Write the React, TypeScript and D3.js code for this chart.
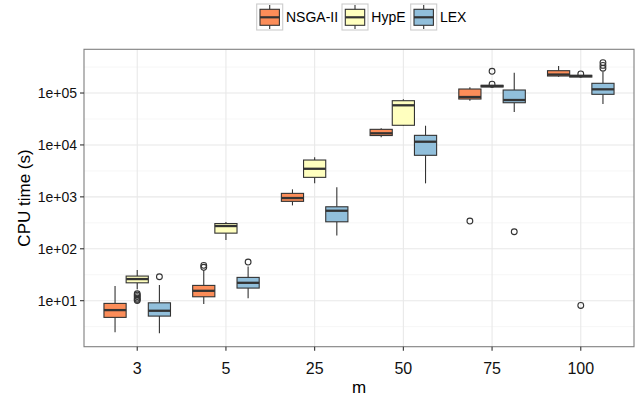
import React from "react";
import { scaleBand, scaleLog } from "d3";

// categories and series
const categories = ["3", "5", "25", "50", "75", "100"];
const seriesNames = ["NSGA-II", "HypE", "LEX"];
const seriesColors = ["#FC8D59", "#FFFFBF", "#91BFDB"];

// [lower whisker, Q1, median, Q3, upper whisker] per category
const nsga2Stats = [
  [2.48, 4.77, 6.59, 8.87, 19.1],
  [8.6, 11.9, 15.5, 19.7, 38.9],
  [685, 819, 949, 1167, 1395],
  [14000, 15170, 16750, 19970, 20900],
  [71100, 76600, 83700, 119400, 128800],
  [206000, 212600, 227000, 269000, 331000],
];
const hypeStats = [
  [16.7, 22.1, 26.1, 29.8, 38.9],
  [147, 200, 274, 306, 327],
  [1820, 2375, 3475, 5120, 5770],
  [23100, 23900, 58000, 71100, 75700],
  [127100, 130600, 136400, 140700, 143000],
  [199000, 203000, 213000, 219000, 221000],
];
const lexStats = [
  [2.35, 5.05, 6.4, 9.1, 20],
  [11.2, 17.5, 22.1, 28.1, 45.4],
  [181, 331, 540, 644, 1525],
  [1820, 6310, 11530, 15300, 23450],
  [43000, 65000, 73300, 114200, 246000],
  [61400, 94400, 117800, 153800, 258000],
];

// outliers per category
const nsga2Outliers = [[], [44, 48], [], [], [342], []];
const hypeOutliers = [[13.6, 12.8, 12, 11.2, 10.6, 10.1], [], [], [], [262000, 148000], [233000, 8.1]];
const lexOutliers = [[28.9], [55.5], [], [], [213], [300000, 340000, 385000]];

const yTicks = [1e1, 1e2, 1e3, 1e4, 1e5];
const yTickLabels = ["1e+01", "1e+02", "1e+03", "1e+04", "1e+05"];
const yMinor = [3.162, 31.62, 316.2, 3162, 31623, 316228];

const allStats = [nsga2Stats, hypeStats, lexStats];
const allOutliers = [nsga2Outliers, hypeOutliers, lexOutliers];

const W = 639;
const H = 398;
const panel = { left: 84, right: 634, top: 49.3, bottom: 346.7 };
const font = "'Liberation Sans', Arial, Helvetica, sans-serif";
const ink = "#333333";

// legend layout
const legendX = [256.7, 342, 410.7];
const legendKey = 26;

export default function App() {
  const x = scaleBand<string>()
    .domain(categories)
    .range([panel.left, panel.right])
    .paddingInner(0)
    .paddingOuter(0.1);
  const step = x.step();
  const dodge = scaleBand<string>()
    .domain(seriesNames)
    .range([-0.375 * step, 0.375 * step]);
  const bw = dodge.bandwidth();

  const y = scaleLog().domain([1.3, 695000]).range([panel.bottom, panel.top]);

  const cx = (c: string) => (x(c) as number) + step / 2;

  return (
    <svg
      width={W}
      height={H}
      style={{ position: "absolute", left: 0, top: 0, display: "block", background: "#fff" }}
    >
      {/* panel background */}
      <rect
        x={panel.left}
        y={panel.top}
        width={panel.right - panel.left}
        height={panel.bottom - panel.top}
        fill="#fff"
      />
      {/* minor grid */}
      {yMinor.map((v, i) => (
        <line
          key={"mn" + i}
          x1={panel.left}
          x2={panel.right}
          y1={y(v)}
          y2={y(v)}
          stroke="#f4f4f4"
          strokeWidth={0.8}
        />
      ))}
      {/* major grid */}
      {yTicks.map((v, i) => (
        <line
          key={"mj" + i}
          x1={panel.left}
          x2={panel.right}
          y1={y(v)}
          y2={y(v)}
          stroke="#e8e8e8"
          strokeWidth={1.1}
        />
      ))}
      {categories.map((c) => (
        <line
          key={"vx" + c}
          x1={cx(c)}
          x2={cx(c)}
          y1={panel.top}
          y2={panel.bottom}
          stroke="#e8e8e8"
          strokeWidth={1.1}
        />
      ))}

      {/* boxes */}
      {seriesNames.map((s, si) =>
        categories.map((c, ci) => {
          const [lo, q1, med, q3, hi] = allStats[si][ci];
          const left = cx(c) + (dodge(s) as number);
          const mid = left + bw / 2;
          return (
            <g key={s + c}>
              <line x1={mid} x2={mid} y1={y(hi)} y2={y(q3)} stroke={ink} strokeWidth={1.1} />
              <line x1={mid} x2={mid} y1={y(q1)} y2={y(lo)} stroke={ink} strokeWidth={1.1} />
              <rect
                x={left}
                y={y(q3)}
                width={bw}
                height={Math.max(0.5, y(q1) - y(q3))}
                fill={seriesColors[si]}
                stroke={ink}
                strokeWidth={1.1}
              />
              <line x1={left} x2={left + bw} y1={y(med)} y2={y(med)} stroke={ink} strokeWidth={2.3} />
              {allOutliers[si][ci].map((o, oi) => (
                <circle
                  key={oi}
                  cx={mid}
                  cy={y(o)}
                  r={2.9}
                  fill="none"
                  stroke={ink}
                  strokeWidth={1.1}
                />
              ))}
            </g>
          );
        })
      )}

      {/* panel border */}
      <rect
        x={panel.left}
        y={panel.top}
        width={panel.right - panel.left}
        height={panel.bottom - panel.top}
        fill="none"
        stroke="#7f7f7f"
        strokeWidth={1.1}
      />

      {/* y axis */}
      {yTicks.map((v, i) => (
        <g key={"yt" + i}>
          <line x1={panel.left - 4} x2={panel.left} y1={y(v)} y2={y(v)} stroke={ink} strokeWidth={1.1} />
          <text
            x={panel.left - 7}
            y={y(v)}
            dy="0.35em"
            textAnchor="end"
            fontFamily={font}
            fontSize={14}
            fill="#111"
          >
            {yTickLabels[i]}
          </text>
        </g>
      ))}
      <text
        transform={`translate(30,${(panel.top + panel.bottom) / 2}) rotate(-90)`}
        textAnchor="middle"
        fontFamily={font}
        fontSize={17}
        fill="#000"
      >
        CPU time (s)
      </text>

      {/* x axis */}
      {categories.map((c) => (
        <g key={"xt" + c}>
          <line x1={cx(c)} x2={cx(c)} y1={panel.bottom} y2={panel.bottom + 4} stroke={ink} strokeWidth={1.1} />
          <text
            x={cx(c)}
            y={374}
            textAnchor="middle"
            fontFamily={font}
            fontSize={16}
            fill="#111"
          >
            {c}
          </text>
        </g>
      ))}
      <text
        x={(panel.left + panel.right) / 2}
        y={393}
        textAnchor="middle"
        fontFamily={font}
        fontSize={17}
        fill="#000"
      >
        m
      </text>

      {/* legend */}
      {seriesNames.map((s, i) => {
        const lx = legendX[i];
        const ly = 4;
        const kx = lx + legendKey / 2;
        return (
          <g key={"lg" + s}>
            <rect x={lx} y={ly} width={legendKey} height={legendKey} fill="#fff" stroke="#cccccc" strokeWidth={1.1} />
            <line x1={kx} x2={kx} y1={ly + 1} y2={ly + 25} stroke={ink} strokeWidth={1.1} />
            <rect
              x={lx + 3.3}
              y={ly + 5.3}
              width={legendKey - 6.6}
              height={16}
              fill={seriesColors[i]}
              stroke={ink}
              strokeWidth={1.1}
            />
            <line x1={lx + 3.3} x2={lx + legendKey - 3.3} y1={ly + 13.3} y2={ly + 13.3} stroke={ink} strokeWidth={2.2} />
            <text x={lx + legendKey + 3.3} y={21.5} fontFamily={font} fontSize={14} fill="#000">
              {s}
            </text>
          </g>
        );
      })}
    </svg>
  );
}
